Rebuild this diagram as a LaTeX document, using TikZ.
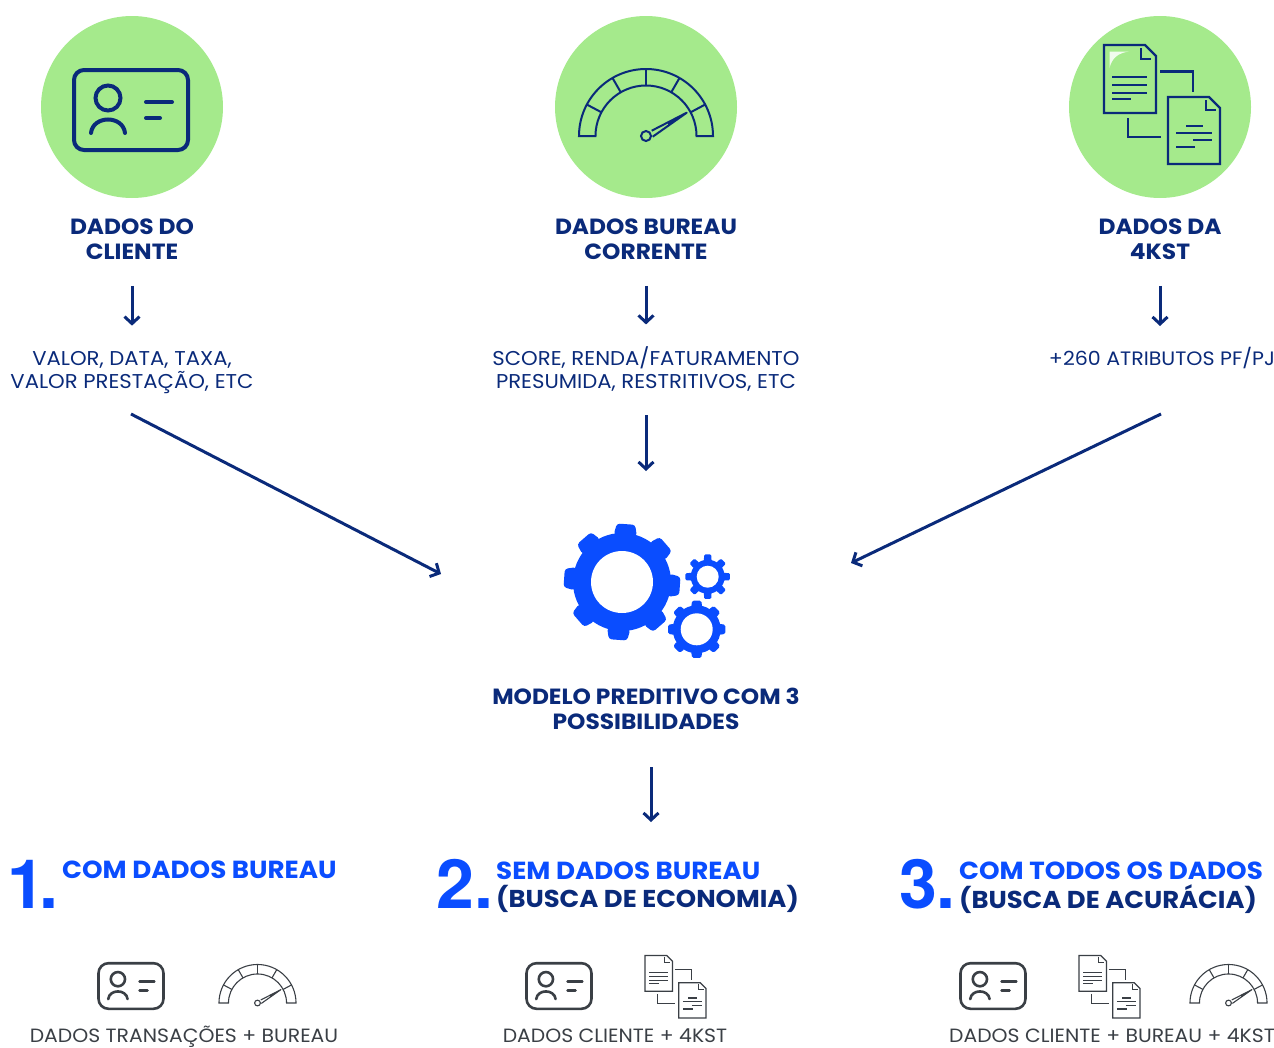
\documentclass[tikz,border=0pt]{standalone}
\usepackage{fontspec}
\setmainfont[FakeStretch=1.06]{Poppins}
\newfontfamily\numfont{TeX Gyre Heros}
\usetikzlibrary{arrows.meta,positioning}
\definecolor{navy}{HTML}{0A2A7A}
\definecolor{mint}{HTML}{A5EA8C}
\definecolor{vivid}{HTML}{0A4DFF}
\definecolor{inkgray}{HTML}{3A3F45}
\tikzset{
  title/.style={font=\fontsize{22}{25.5}\selectfont\bfseries,text=navy,align=center,inner sep=0pt},
  info/.style={font=\fontsize{20}{23}\selectfont,text=navy,align=center,inner sep=0pt},
  head/.style={font=\fontsize{24.7}{29}\selectfont\bfseries,text=vivid,align=left,inner sep=0pt,anchor=west},
  sub/.style={head,font=\fontsize{24.4}{29}\selectfont\bfseries,text=navy},
  num/.style={font=\numfont\fontsize{68}{68}\selectfont\bfseries,text=vivid,inner sep=0pt},
  legend/.style={font=\fontsize{19.2}{23}\selectfont,text=inkgray,inner sep=0pt,anchor=base},
  flow/.style={draw=navy,line width=3pt,-{Straight Barb[length=7pt,width=15pt,line width=3pt]}},
  idcard/.pic={
    \draw[rounded corners=10pt] (-57,-40) rectangle (57,40);
    \draw (-23,-12) circle (12.5);
    \draw[line cap=round] (-40,23) .. controls (-38,5) and (-8,5) .. (-6,23);
    \draw[line cap=round] (15,-8) -- (41,-8);
    \draw[line cap=round] (15,8) -- (29,8);
  },
  gauge/.pic={
    \draw (-67,0) arc (180:360:67) -- (50.5,0) arc (360:180:50.5) -- cycle;
    \foreach \a in {208,240,270,300,332} \draw (\a:50.5) -- (\a:67);
    \draw (0,0) circle (5);
    \draw[line join=round] (5.7,-5.3) -- (40.7,-23.3) -- (6.7,0.7);
    \fill (22,-13.7) -- (40.7,-23.3) -- (22,-10.1) -- cycle;
  },
  docs/.pic={
    \draw (-56,-62) -- (-15,-62) -- (-4,-51) -- (-4,6) -- (-56,6) -- cycle;
    \draw (-19,-59) -- (-19,-48) -- (-9,-48);
    \foreach \ly in {-30,-22,-14} \draw (-48,\ly) -- (-13,\ly);
    \draw (-48,-8) -- (-29,-8);
    \draw (0,-35.5) -- (33,-35.5) -- (33,-15);
    \draw (-32,11) -- (-32,30) -- (1,30);
    \draw (8,-10) -- (49,-10) -- (60,1) -- (60,57) -- (8,57) -- cycle;
    \draw (46,-7) -- (46,3) -- (56,3);
    \draw (26,19) -- (43,19);
    \draw (16,26) -- (52,26);
    \draw (33,33) -- (52,33);
    \draw (16,40) -- (35,40);
  },
}
\begin{document}
\begin{tikzpicture}[x=1pt,y=-1pt]
  \useasboundingbox (0,0) rectangle (1274,1047);
  % circles with icons
  \foreach \cx in {132,646,1160} \fill[mint] (\cx,107) circle (91);
  \fill[white!85!mint] (1109.5,51.5) -- (1129,51.5) .. controls (1118,53) and (1112,58) .. (1109.5,68) -- cycle;
  \pic[color=navy,line width=4pt] at (131,110) {idcard};
  \pic[color=navy,line width=2pt] at (646,136) {gauge};
  \pic[color=navy,line width=2.4pt] at (1160,107) {docs};
  % titles and texts
  \node[title] (tcliente) at (132,239) {DADOS DO\\CLIENTE};
  \node[title] (tbureau) at (646,239) {DADOS BUREAU\\CORRENTE};
  \node[title] (tkst) at (1160,239) {DADOS DA\\4KST};
  \node[info] (vcliente) at (132,373) {VALOR, DATA, TAXA,\\VALOR PRESTAÇÃO, ETC};
  \node[info] (vbureau) at (646,369) {SCORE, RENDA/FATURAMENTO\\PRESUMIDA, RESTRITIVOS, ETC};
  \node[info,font=\fontsize{19.4}{23}\selectfont] (vkst) at (1162,358) {+260 ATRIBUTOS PF/PJ};
  \node[title] (modelo) at (646,709) {MODELO PREDITIVO COM 3\\POSSIBILIDADES};
  % gears
  \foreach \gx/\gy/\gbody/\gtip/\ghole/\grnd/\grot in {622/582/49/58.7/31/3/4,707.7/576.7/17/22.5/11/1.2/0,696.7/629.3/24/29/16/1.5/0}{
    \begin{scope}[shift={(\gx,\gy)}]
      \fill[vivid] (0,0) circle (\gbody);
      \foreach \i in {1,...,8}
        \fill[vivid,rounded corners=\grnd pt] (\i*45+\grot-14:\gbody-1) -- (\i*45+\grot-9:\gtip) -- (\i*45+\grot+9:\gtip) -- (\i*45+\grot+14:\gbody-1) -- cycle;
      \fill[white] (0,0) circle (\ghole);
    \end{scope}
  }
  % free arrow ends
  \coordinate (lfrom) at (131,414);
  \coordinate (lin) at (441,574);
  \coordinate (rfrom) at (1161,414);
  \coordinate (rin) at (851,563);
  \coordinate (mfrom) at (646,415);
  \coordinate (min) at (646,471);
  \coordinate (ofrom) at (651,767);
  \coordinate (oin) at (651,822);
  \draw[flow,shorten <=26pt,shorten >=26pt] (tcliente) -- (vcliente);
  \draw[flow,shorten <=26pt,shorten >=22pt] (tbureau) -- (vbureau);
  \draw[flow,shorten <=26pt,shorten >=32pt] (tkst) -- (tkst |- vkst);
  \draw[flow] (lfrom) -- (lin);
  \draw[flow] (rfrom) -- (rin);
  \draw[flow] (mfrom) -- (min);
  \draw[flow] (ofrom) -- (oin);
  % results
  \node[num] (n1) at (33,884) {1\kern-5pt.};
  \node[num] (n2) at (465,884) {2.};
  \node[num] (n3) at (927.5,884) {3.};
  \node[head] (h1) at (62,870) {COM DADOS BUREAU};
  \node[head] (h2) at (496,871) {SEM DADOS BUREAU};
  \node[sub] (s2) at (496,899) {(BUSCA DE ECONOMIA)};
  \node[head] (h3) at (959,871) {COM TODOS OS DADOS};
  \node[sub] (s3) at (959,899) {(BUSCA DE ACURÁCIA)};
  % small icons
  \pic[color=inkgray,line width=2.6pt,scale=.57] at (131,986) {idcard};
  \pic[color=inkgray,line width=1.1pt,scale=.575] at (257.5,1003) {gauge};
  \pic[color=inkgray,line width=2.6pt,scale=.57] at (559,986) {idcard};
  \pic[color=inkgray,line width=1.2pt,scale=.526] at (674.5,988) {docs};
  \pic[color=inkgray,line width=2.6pt,scale=.57] at (993,986) {idcard};
  \pic[color=inkgray,line width=1.2pt,scale=.526] at (1108.5,988) {docs};
  \pic[color=inkgray,line width=1.1pt,scale=.575] at (1228.5,1003) {gauge};
  \node[legend] (l1) at (184,1042) {DADOS TRANSAÇÕES + BUREAU};
  \node[legend] (l2) at (615,1042) {DADOS CLIENTE + 4KST};
  \node[legend] (l3) at (1112,1042) {DADOS CLIENTE + BUREAU + 4KST};
\end{tikzpicture}
\end{document}
